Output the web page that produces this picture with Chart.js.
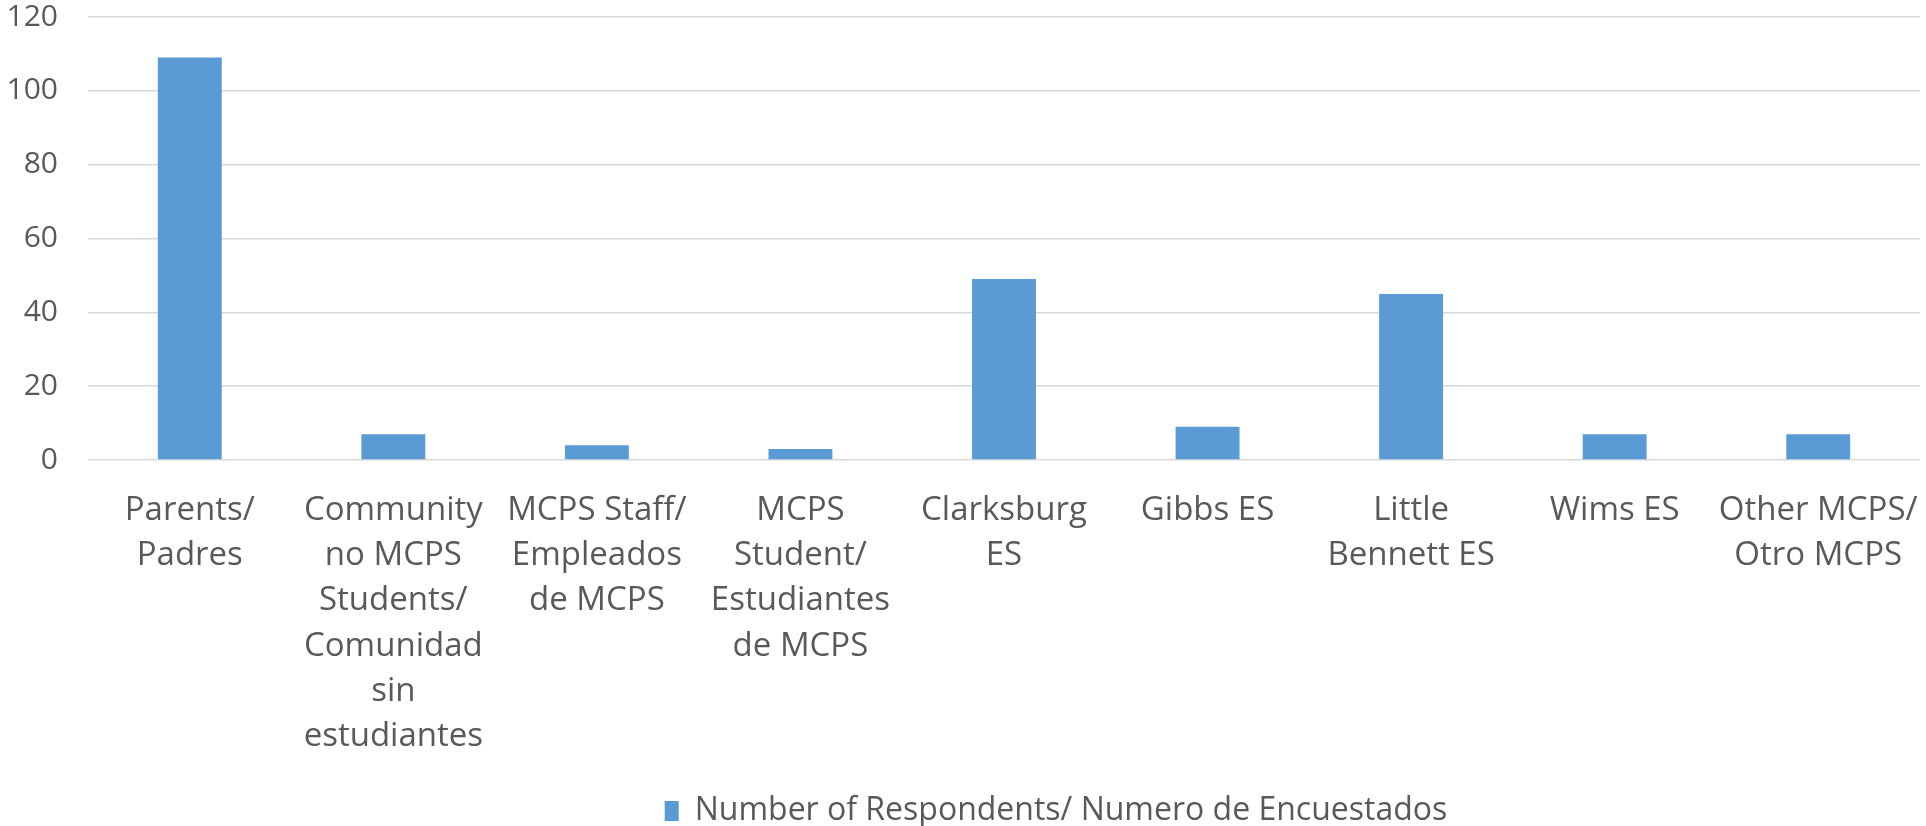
<!DOCTYPE html>
<html>
<head>
<meta charset="utf-8">
<script src="https://cdn.jsdelivr.net/npm/chart.js@4/dist/chart.umd.min.js"></script>
<style>
  html, body { margin: 0; padding: 0; background: #fff; }
  #wrap { width: 1926px; height: 826px; }
</style>
</head>
<body>
<div id="wrap"><canvas id="respondentsChart"></canvas></div>
<script>
// categories (multi-line labels as shown under each bar)
const categories = [
  ["Parents/", "Padres"],
  ["Community", "no MCPS", "Students/", "Comunidad", "sin", "estudiantes"],
  ["MCPS Staff/", "Empleados", "de MCPS"],
  ["MCPS", "Student/", "Estudiantes", "de MCPS"],
  ["Clarksburg", "ES"],
  ["Gibbs ES"],
  ["Little", "Bennett ES"],
  ["Wims ES"],
  ["Other MCPS/", "Otro MCPS"]
];
const respondents = [109, 7, 4, 3, 49, 9, 45, 7, 7];
const seriesLabel = "Number of Respondents/ Numero de Encuestados";
const yTicks = [0, 20, 40, 60, 80, 100, 120];

const textColor = "#595959";
const fontFamily = "'Open Sans', 'Liberation Sans', sans-serif";

// nudge the legend a bit right and down, like the original
const legendShift = {
  id: "legendShift",
  afterLayout(chart) {
    const lg = chart.legend;
    if (!lg) return;
    lg.left += 96;
    lg.right += 96;
    lg.top += 11;
    lg.bottom += 11;
  },
};

const ctx = document.getElementById("respondentsChart").getContext("2d");
new Chart(ctx, {
  type: "bar",
  data: {
    labels: categories,
    datasets: [
      {
        label: seriesLabel,
        data: respondents,
        backgroundColor: "#5b9bd5",
        borderWidth: 0,
        categoryPercentage: 1,
        barPercentage: 0.314,
      },
    ],
  },
  options: {
    responsive: true,
    maintainAspectRatio: false,
    animation: false,
    layout: { padding: { top: 17, right: 6, left: 0, bottom: 0 } },
    scales: {
      y: {
        min: 0,
        max: 120,
        afterBuildTicks: (scale) => {
          scale.ticks = yTicks.map((v) => ({ value: v }));
        },
        afterFit: (scale) => {
          scale.width = 88;
          scale.paddingTop = 0;
          scale.paddingBottom = 0;
        },
        border: { display: false },
        grid: { color: "#d9d9d9", lineWidth: 1.5, drawTicks: false },
        ticks: {
          color: textColor,
          font: { family: fontFamily, size: 30 },
          padding: 30,
        },
      },
      x: {
        afterFit: (scale) => {
          scale.height = 320;
          scale.paddingLeft = 0;
          scale.paddingRight = 0;
        },
        border: { display: false },
        grid: { display: false },
        ticks: {
          color: textColor,
          font: { family: fontFamily, size: 33, lineHeight: 1.37 },
          padding: 20,
          maxRotation: 0,
          autoSkip: false,
        },
      },
    },
    plugins: {
      legend: {
        position: "bottom",
        labels: {
          color: textColor,
          font: { family: fontFamily, size: 32, lineHeight: 1 },
          boxWidth: 14,
          boxHeight: 20,
          padding: 4,
        },
      },
      tooltip: { enabled: false },
    },
  },
  plugins: [legendShift],
});
</script>
</body>
</html>
